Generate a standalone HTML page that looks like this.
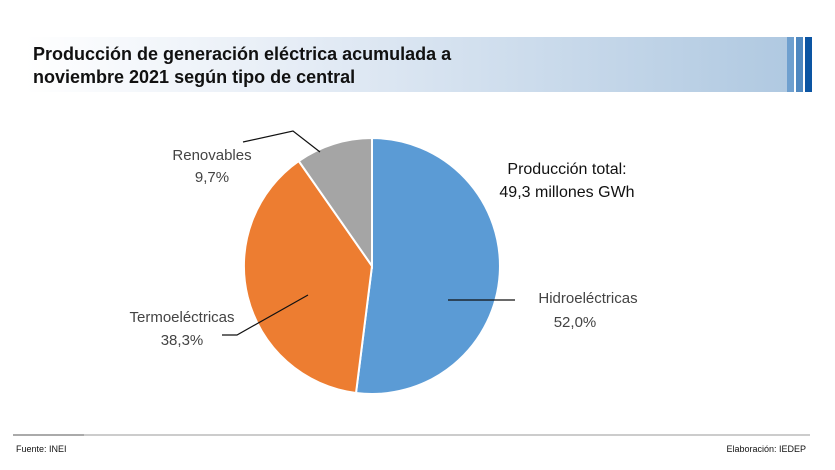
<!DOCTYPE html>
<html><head><meta charset="utf-8"><style>
body{margin:0;width:835px;height:465px;background:#fff;overflow:hidden;font-family:"Liberation Sans",sans-serif}
</style></head><body>
<svg width="835" height="465" xmlns="http://www.w3.org/2000/svg">
<defs><linearGradient id="g" x1="0" x2="1"><stop offset="0" stop-color="#fff"/><stop offset="0.35" stop-color="#e6edf6"/><stop offset="1" stop-color="#b0c9e1"/></linearGradient></defs>
<rect x="25" y="37" width="762" height="55" fill="url(#g)"/>
<rect x="787" y="37" width="7" height="55" fill="#6fa0cf"/>
<rect x="796" y="37" width="7" height="55" fill="#4f88c0"/>
<rect x="805" y="37" width="7" height="55" fill="#0c55a3"/>
<text x="33" y="60" font-size="18" font-weight="bold" fill="#111">Producción de generación eléctrica acumulada a</text>
<text x="33" y="83" font-size="18" font-weight="bold" fill="#111">noviembre 2021 según tipo de central</text>
<g stroke="#fff" stroke-width="2">
<path d="M372,266 L372,138 A128,128 0 1 1 356,393 Z" fill="#5b9bd5"/>
<path d="M372,266 L356,393 A128,128 0 0 1 298.7,161 Z" fill="#ed7d31"/>
<path d="M372,266 L298.7,161 A128,128 0 0 1 372,138 Z" fill="#a5a5a5"/>
</g>
<g stroke="#111" stroke-width="1.2" fill="none">
<polyline points="243,142 293,131 320,152"/>
<polyline points="222,335 237,335 308,295"/>
<line x1="448" y1="300" x2="515" y2="300"/>
</g>
<g font-size="15" fill="#444">
<text x="212" y="160" text-anchor="middle">Renovables</text>
<text x="212" y="182" text-anchor="middle">9,7%</text>
<text x="182" y="322" text-anchor="middle">Termoeléctricas</text>
<text x="182" y="345" text-anchor="middle">38,3%</text>
<text x="588" y="303" text-anchor="middle">Hidroeléctricas</text>
<text x="575" y="327" text-anchor="middle">52,0%</text>
</g>
<g font-size="16" fill="#111">
<text x="567" y="174" text-anchor="middle">Producción total:</text>
<text x="567" y="197" text-anchor="middle">49,3 millones GWh</text>
</g>
<line x1="13" y1="435" x2="810" y2="435" stroke="#999" stroke-width="1"/>
<line x1="13" y1="435" x2="84" y2="435" stroke="#aaa" stroke-width="2"/>
<text x="16" y="452" font-size="9" fill="#111">Fuente:  INEI</text>
<text x="806" y="452" font-size="9" fill="#111" text-anchor="end">Elaboración: IEDEP</text>
</svg>
</body></html>
